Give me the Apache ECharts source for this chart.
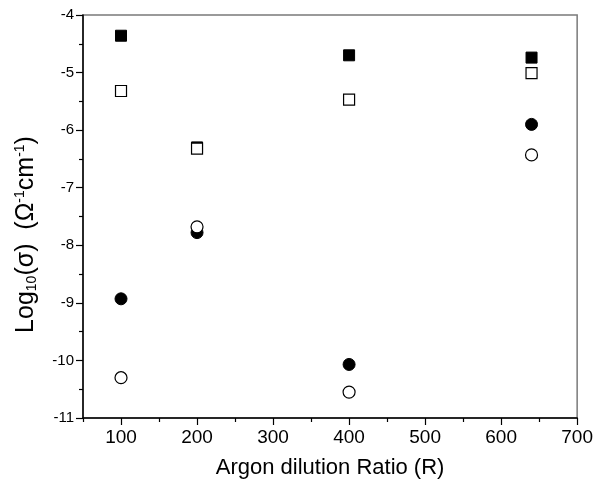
<!DOCTYPE html>
<html><head><meta charset="utf-8">
<script src="https://cdn.jsdelivr.net/npm/echarts@6/dist/echarts.min.js"></script>
<style>html,body{margin:0;padding:0;background:#fff}#c{width:596px;height:490px}</style>
</head><body><div id="c"></div>
<script>
const ratios = [100, 200, 400, 640];
const filledSquares = [-4.36, -6.30, -4.70, -4.74];
const openSquares = [-5.32, -6.32, -5.47, -5.01];
const filledCircles = [-8.93, -7.78, -10.07, -5.90];
const openCircles = [-10.30, -7.68, -10.55, -6.43];
const xTicks = [100, 200, 300, 400, 500, 600, 700];
const xMinorTicks = [50, 150, 250, 350, 450, 550, 650];
const yTicks = [-11, -10, -9, -8, -7, -6, -5, -4];

const pairs = v => ratios.map((r, i) => [r, v[i]]);
const FONT = 'Liberation Sans, Arial, sans-serif';
const chart = echarts.init(document.getElementById('c'), null, {renderer: 'canvas'});
chart.setOption({
  animation: false,
  backgroundColor: '#fff',
  grid: {left: 83, top: 15, right: 17, bottom: 72, show: true, borderColor: '#7a7a7a', borderWidth: 1.5, backgroundColor: 'transparent'},
  xAxis: [{
    type: 'value', min: 50, max: 700, interval: 50,
    name: 'Argon dilution Ratio (R)', nameLocation: 'middle', nameGap: 39,
    nameTextStyle: {fontFamily: FONT, fontSize: 22, color: '#000'},
    axisLine: {onZero: false, lineStyle: {color: '#000', width: 1.5}},
    axisTick: {inside: false, length: 7, customValues: xTicks, lineStyle: {color: '#000', width: 1.2}},
    splitLine: {show: false},
    axisLabel: {fontFamily: FONT, fontSize: 19, color: '#000', margin: 10, customValues: xTicks}
  }, {
    type: 'value', min: 50, max: 700, interval: 50, position: 'bottom', offset: 0,
    axisLine: {show: false, onZero: false},
    axisTick: {inside: false, length: 4, customValues: xMinorTicks, lineStyle: {color: '#000', width: 1.2}},
    splitLine: {show: false},
    axisLabel: {show: false}
  }],
  yAxis: {
    type: 'value', min: -11, max: -4, interval: 1,
    name: '{b|Log}{s|10}{b|(σ)  (Ω}{p|-1}{b|cm}{p|-1}{b|)}', nameLocation: 'middle', nameGap: 44, nameRotate: 90,
    nameTextStyle: {fontFamily: FONT, color: '#000', padding: [0, 36, 0, 0],
      rich: {
        b: {fontFamily: FONT, fontSize: 25, color: '#000'},
        s: {fontFamily: FONT, fontSize: 14, color: '#000', padding: [12, 0, 0, 0]},
        p: {fontFamily: FONT, fontSize: 14, color: '#000', padding: [0, 0, 12, 0]}
      }},
    axisLine: {onZero: false, lineStyle: {color: '#000', width: 1.5}},
    axisTick: {inside: false, length: 7, lineStyle: {color: '#000', width: 1.2}},
    minorTick: {show: true, splitNumber: 2, length: 4, lineStyle: {color: '#000', width: 1.2}},
    splitLine: {show: false},
    minorSplitLine: {show: false},
    axisLabel: {fontFamily: FONT, fontSize: 15, color: '#000', margin: 9}
  },
  series: [
    {type: 'scatter', data: pairs(filledSquares), symbol: 'rect', symbolSize: 11,
      itemStyle: {color: '#000', borderColor: '#000', borderWidth: 1, opacity: 1}},
    {type: 'scatter', data: pairs(openSquares), symbol: 'rect', symbolSize: 11,
      itemStyle: {color: '#fff', borderColor: '#000', borderWidth: 1.2, opacity: 1}},
    {type: 'scatter', data: pairs(filledCircles), symbol: 'circle', symbolSize: 12,
      itemStyle: {color: '#000', borderColor: '#000', borderWidth: 1, opacity: 1}},
    {type: 'scatter', data: pairs(openCircles), symbol: 'circle', symbolSize: 12,
      itemStyle: {color: '#fff', borderColor: '#000', borderWidth: 1.2, opacity: 1}}
  ]
});
</script></body></html>
